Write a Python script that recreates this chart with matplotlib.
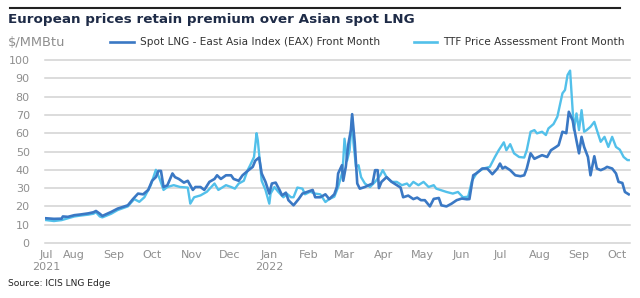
import matplotlib
matplotlib.use("Agg")
import matplotlib.pyplot as plt
import pandas as pd
from matplotlib.lines import Line2D

title = "European prices retain premium over Asian spot LNG"
unit = "$/MMBtu"
source = "Source: ICIS LNG Edge"
eax_label = "Spot LNG - East Asia Index (EAX) Front Month"
ttf_label = "TTF Price Assessment Front Month"

eax_dates = ["2021-07-10","2021-07-16","2021-07-22","2021-07-23","2021-07-27","2021-08-01","2021-08-06","2021-08-12",
             "2021-08-16","2021-08-18","2021-08-21","2021-08-23","2021-08-30","2021-09-04","2021-09-12","2021-09-16",
             "2021-09-20","2021-09-24","2021-09-28","2021-10-01","2021-10-04","2021-10-06","2021-10-08","2021-10-10",
             "2021-10-13","2021-10-17","2021-10-19","2021-10-22","2021-10-26","2021-10-29","2021-11-02","2021-11-04",
             "2021-11-08","2021-11-11","2021-11-15","2021-11-19","2021-11-21","2021-11-24","2021-11-28","2021-12-02",
             "2021-12-04","2021-12-08","2021-12-11","2021-12-15","2021-12-19","2021-12-21","2021-12-24","2021-12-26",
             "2021-12-29","2022-01-01","2022-01-03","2022-01-06","2022-01-09","2022-01-11","2022-01-14","2022-01-16",
             "2022-01-20","2022-01-24","2022-01-27","2022-01-31","2022-02-04","2022-02-06","2022-02-10","2022-02-14",
             "2022-02-17","2022-02-21","2022-02-23","2022-02-24","2022-02-27","2022-02-28","2022-03-02","2022-03-04",
             "2022-03-06","2022-03-07","2022-03-09","2022-03-11","2022-03-13","2022-03-17","2022-03-20","2022-03-23",
             "2022-03-25","2022-03-27","2022-03-28","2022-03-30","2022-04-03","2022-04-07","2022-04-11","2022-04-14",
             "2022-04-16","2022-04-20","2022-04-24","2022-04-27","2022-04-30","2022-05-03","2022-05-07","2022-05-10",
             "2022-05-14","2022-05-16","2022-05-20","2022-05-24","2022-05-28","2022-06-01","2022-06-05","2022-06-07",
             "2022-06-10","2022-06-13","2022-06-17","2022-06-21","2022-06-25","2022-06-29","2022-07-01","2022-07-03",
             "2022-07-05","2022-07-09","2022-07-13","2022-07-17","2022-07-20","2022-07-22","2022-07-25","2022-07-28",
             "2022-07-30","2022-08-03","2022-08-07","2022-08-10","2022-08-14","2022-08-16","2022-08-19","2022-08-22",
             "2022-08-24","2022-08-27","2022-08-30","2022-09-01","2022-09-03","2022-09-05","2022-09-08","2022-09-10",
             "2022-09-13","2022-09-15","2022-09-18","2022-09-21","2022-09-23","2022-09-27","2022-09-30","2022-10-02",
             "2022-10-05","2022-10-07","2022-10-10"]
eax_vals = [13.5,13.2,13.3,14.5,14.3,15.2,15.6,16.2,
            16.8,17.5,16.0,14.8,17.0,18.8,20.6,24.0,
            27.0,26.6,29.0,34.0,36.0,39.4,39.4,30.6,
            31.5,38.0,36.0,35.0,33.0,34.0,29.0,30.6,
            30.6,29.0,33.4,35.0,37.0,35.0,37.0,37.0,
            35.0,34.0,37.0,39.4,41.6,45.0,46.7,38.0,
            33.4,27.0,32.5,33.0,29.0,26.0,27.5,23.4,
            20.6,24.0,27.0,28.0,29.0,25.0,25.0,26.6,
            24.0,26.6,30.6,38.0,42.5,34.0,41.6,54.0,
            61.7,70.4,55.0,32.5,29.7,30.6,31.6,32.5,
            39.8,39.8,30.0,33.4,36.0,33.4,31.6,30.3,
            25.0,25.9,24.0,24.8,23.4,23.4,20.0,24.1,
            24.6,20.6,20.0,21.5,23.4,24.3,23.9,24.0,
            37.0,38.3,40.7,40.7,37.6,40.7,43.4,40.7,
            41.6,39.8,37.0,36.5,37.0,40.7,49.0,46.0,
            46.7,48.0,47.0,50.7,52.5,53.5,60.8,60.0,
            71.7,67.0,56.0,49.0,58.0,52.5,47.0,37.0,
            47.4,40.7,39.8,40.7,41.6,40.7,38.0,33.4,
            32.8,27.9,26.6]

ttf_dates = ["2021-07-10","2021-07-16","2021-07-22","2021-07-27","2021-08-01","2021-08-06","2021-08-12","2021-08-16",
             "2021-08-18","2021-08-21","2021-08-23","2021-08-30","2021-09-04","2021-09-12","2021-09-17","2021-09-21",
             "2021-09-25","2021-09-30","2021-10-04","2021-10-07","2021-10-10","2021-10-13","2021-10-18","2021-10-23",
             "2021-10-29","2021-10-31","2021-11-03","2021-11-08","2021-11-13","2021-11-19","2021-11-22","2021-11-28",
             "2021-12-02","2021-12-05","2021-12-08","2021-12-12","2021-12-15","2021-12-17","2021-12-20","2021-12-22",
             "2021-12-23","2021-12-26","2021-12-29","2022-01-01","2022-01-02","2022-01-05","2022-01-08","2022-01-12",
             "2022-01-15","2022-01-18","2022-01-20","2022-01-23","2022-01-27","2022-01-29","2022-02-02","2022-02-06",
             "2022-02-10","2022-02-14","2022-02-17","2022-02-21","2022-02-24","2022-02-27","2022-02-28","2022-03-01",
             "2022-03-03","2022-03-05","2022-03-07","2022-03-08","2022-03-10","2022-03-12","2022-03-14","2022-03-17",
             "2022-03-21","2022-03-25","2022-03-29","2022-03-31","2022-04-03","2022-04-07","2022-04-11","2022-04-15",
             "2022-04-19","2022-04-21","2022-04-24","2022-04-28","2022-05-02","2022-05-06","2022-05-10","2022-05-12",
             "2022-05-16","2022-05-20","2022-05-25","2022-05-29","2022-06-02","2022-06-06","2022-06-09","2022-06-13",
             "2022-06-18","2022-06-23","2022-06-27","2022-06-30","2022-07-04","2022-07-06","2022-07-09","2022-07-12",
             "2022-07-16","2022-07-20","2022-07-22","2022-07-25","2022-07-28","2022-07-30","2022-08-03","2022-08-06",
             "2022-08-08","2022-08-12","2022-08-15","2022-08-17","2022-08-19","2022-08-21","2022-08-23","2022-08-25",
             "2022-08-26","2022-08-28","2022-08-30","2022-09-01","2022-09-03","2022-09-05","2022-09-07","2022-09-10",
             "2022-09-13","2022-09-15","2022-09-18","2022-09-21","2022-09-24","2022-09-27","2022-09-30","2022-10-03",
             "2022-10-06","2022-10-09","2022-10-10"]
ttf_vals = [12.5,12.0,12.5,13.5,14.5,15.0,15.5,16.0,
            16.8,14.5,14.0,16.0,18.0,20.0,24.0,22.5,
            25.0,31.6,40.0,35.0,29.0,30.6,31.6,30.6,
            30.3,21.5,25.0,26.0,28.0,32.5,29.0,31.6,
            30.6,29.7,32.5,34.0,39.8,42.5,47.0,60.0,
            56.0,34.0,29.0,21.5,27.0,30.6,28.0,25.0,
            26.8,25.0,25.0,30.3,29.7,26.6,28.0,27.0,
            26.6,22.4,24.0,25.3,30.6,38.0,45.0,57.0,
            45.0,50.7,69.0,55.0,41.6,42.5,36.0,32.5,
            30.6,33.4,37.0,39.8,36.0,33.4,33.4,31.6,
            32.5,31.0,33.4,31.6,33.4,30.6,31.6,29.7,
            28.8,27.9,27.0,27.9,25.0,25.3,34.0,38.5,
            40.7,41.6,47.0,50.7,55.0,50.7,54.0,49.0,
            47.0,46.7,50.7,60.8,61.7,59.9,60.8,59.0,
            62.6,65.0,69.0,75.4,81.8,83.6,91.8,94.2,
            83.6,61.7,70.8,61.7,72.6,60.8,61.7,63.5,
            66.2,61.7,55.3,58.0,52.5,58.0,52.5,51.0,
            47.0,45.3,45.3]

tick_dates = ["2021-07-10","2021-08-01","2021-09-01","2021-10-01","2021-11-01","2021-12-01","2022-01-01",
              "2022-02-01","2022-03-01","2022-04-01","2022-05-01","2022-06-01","2022-07-01","2022-08-01",
              "2022-09-01","2022-10-01"]
tick_labels = ["Jul\n2021","Aug","Sep","Oct","Nov","Dec","Jan\n2022","Feb","Mar","Apr","May","Jun",
               "Jul","Aug","Sep","Oct"]
y_ticks = [0,10,20,30,40,50,60,70,80,90,100]

eax_color = "#3a78c4"
ttf_color = "#52c0ea"
text_gray = "#8f8f8f"
navy = "#1e2b47"

W, H = 640, 298
fig = plt.figure(figsize=(W/100, H/100), dpi=100)
fig.patch.set_facecolor("white")

ax = fig.add_axes([45/W, 1-243/H, (630-45)/W, (243-60)/H])
ax.plot(pd.to_datetime(ttf_dates), ttf_vals, color=ttf_color, lw=1.7, solid_joinstyle="round", zorder=3)
ax.plot(pd.to_datetime(eax_dates), eax_vals, color=eax_color, lw=1.9, solid_joinstyle="round", zorder=4)

ax.set_ylim(0, 100)
ax.set_xlim(pd.Timestamp("2021-07-09"), pd.Timestamp("2022-10-11"))
ax.set_yticks(y_ticks)
ax.set_xticks(pd.to_datetime(tick_dates))
ax.set_xticklabels(tick_labels)
ax.tick_params(axis="both", length=0, labelsize=8.0, colors=text_gray)
ax.tick_params(axis="y", pad=11)
ax.tick_params(axis="x", pad=5)
ax.grid(axis="y", color="#d2d2d2", lw=1.1)
for g in ax.get_ygridlines():
    g.set_clip_on(False)
for s in ax.spines.values():
    s.set_visible(False)
ax.set_facecolor("none")

# top rule
fig.add_artist(Line2D([10/W, 620/W], [1-8/H, 1-8/H], color="#222222", lw=1.5))
fig.text(8/W, 1-19/H, title, fontsize=9.7, fontweight="bold", color=navy, va="center", ha="left")
fig.text(8/W, 1-42/H, unit, fontsize=9.4, color=text_gray, va="center", ha="left")

# legend
fig.add_artist(Line2D([110/W, 134/W], [1-42/H, 1-42/H], color=eax_color, lw=1.9))
fig.text(140/W, 1-42/H, eax_label, fontsize=7.6, color="#333333", va="center", ha="left")
fig.add_artist(Line2D([414/W, 437/W], [1-42/H, 1-42/H], color=ttf_color, lw=1.9))
fig.text(443/W, 1-42/H, ttf_label, fontsize=7.6, color="#333333", va="center", ha="left")

fig.text(8/W, 1-283/H, source, fontsize=6.6, color="#222222", va="center", ha="left")

fig.savefig("out.png", dpi=100, facecolor="white")
